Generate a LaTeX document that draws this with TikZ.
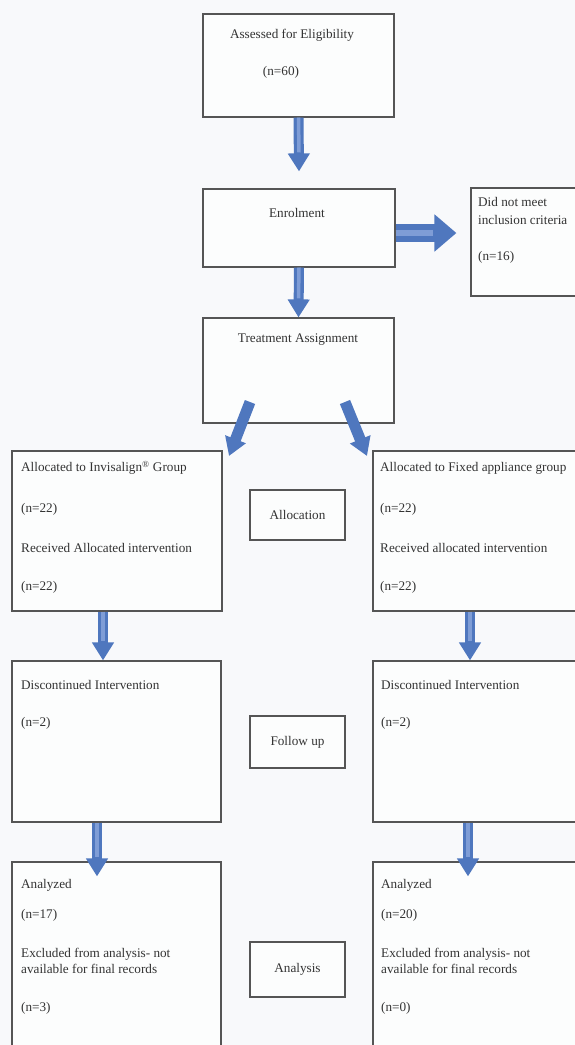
\documentclass[tikz,border=0pt]{standalone}
\usepackage{fontspec}
\setmainfont{Liberation Serif}
\usetikzlibrary{calc,arrows.meta}
\definecolor{boxline}{HTML}{555555}
\definecolor{txt}{HTML}{333333}
\definecolor{arrowblue}{HTML}{4F77BE}
\definecolor{arrowlight}{HTML}{7F9DD6}
\definecolor{bg}{HTML}{F8F9FB}
\begin{document}
\begin{tikzpicture}[x=1pt,y=-1pt,
  box/.style={draw=boxline, line width=1.2pt, rectangle, inner sep=0pt, fill=white!60!bg},
  lbl/.style={text=txt, font=\fontsize{13.2}{15}\selectfont, inner sep=0pt},
  lblw/.style={lbl, anchor=west},
  bluearrow/.style={draw=arrowblue, line width=10pt, -{Triangle[width=21pt,length=18pt]}},
  sidearrow/.style={draw=arrowblue, line width=18pt, -{Triangle[width=36pt,length=22pt]}},
  shine/.style={draw=arrowlight, line width=3.5pt},
]
\fill[bg] (0,0) rectangle (575,1045);
\useasboundingbox (0,0) rectangle (575,1045);
\clip (0,0) rectangle (575,1045);

% boxes
\node[box, minimum width=191pt, minimum height=103pt] (assess) at (298.5,65.5) {};
\node[box, minimum width=192pt, minimum height=78pt] (enrol) at (299,228) {};
\node[box, minimum width=130pt, minimum height=108pt] (excl) at (536,242) {};
\node[box, minimum width=191pt, minimum height=105pt] (treat) at (298.5,370.5) {};
\node[box, minimum width=210pt, minimum height=160pt] (allocL) at (117,531) {};
\node[box, minimum width=227pt, minimum height=160pt] (allocR) at (486.5,531) {};
\node[box, minimum width=95pt, minimum height=50pt] (allocation) at (297.5,515) {};
\node[box, minimum width=209pt, minimum height=161pt] (discL) at (116.5,741.5) {};
\node[box, minimum width=227pt, minimum height=161pt] (discR) at (486.5,741.5) {};
\node[box, minimum width=95pt, minimum height=52pt] (follow) at (297.5,742) {};
\node[box, minimum width=209pt, minimum height=208pt] (anaL) at (116.5,966) {};
\node[box, minimum width=227pt, minimum height=208pt] (anaR) at (486.5,966) {};
\node[box, minimum width=95pt, minimum height=55pt] (analysis) at (297.5,969.5) {};

% arrows
\draw[bluearrow] (assess.south) -- ($(enrol.north)+(0,-17)$);
\draw[shine] (assess.south) -- ($(enrol.north)+(0,-36)$);
\draw[bluearrow] (enrol.south) -- (treat.north);
\draw[shine] (enrol.south) -- ($(treat.north)+(0,-19)$);
\draw[sidearrow] ($(enrol.east)+(0,5)$) -- ($(excl.west)+(-14,-9)$);
\draw[shine, line width=6pt] ($(enrol.east)+(0,5)$) -- ($(excl.west)+(-37,-9)$);

\coordinate (dl1) at (250,402);
\coordinate (dl2) at (229,456);
\coordinate (dr1) at (345,402);
\coordinate (dr2) at (367,456);
\draw[bluearrow, line width=11pt] (dl1) -- (dl2);
\draw[bluearrow, line width=11pt] (dr1) -- (dr2);

\draw[bluearrow] ($(allocL.south)+(-14,0)$) -- ($(discL.north)+(-13.5,0)$);
\draw[shine] ($(allocL.south)+(-14,0)$) -- ($(discL.north)+(-13.5,-19)$);
\draw[bluearrow] ($(allocR.south)+(-16.5,0)$) -- ($(discR.north)+(-16.5,0)$);
\draw[shine] ($(allocR.south)+(-16.5,0)$) -- ($(discR.north)+(-16.5,-19)$);
\draw[bluearrow] ($(discL.south)+(-19.5,0)$) -- ($(anaL.north)+(-19.5,15)$);
\draw[shine] ($(discL.south)+(-19.5,0)$) -- ($(anaL.north)+(-19.5,-4)$);
\draw[bluearrow] ($(discR.south)+(-18.5,0)$) -- ($(anaR.north)+(-18.5,15)$);
\draw[shine] ($(discR.south)+(-18.5,0)$) -- ($(anaR.north)+(-18.5,-4)$);

% texts
\node[lbl] (t1) at (292,35) {Assessed for Eligibility};
\node[lbl] (t2) at (281,72) {(n=60)};
\node[lbl] (t3) at (297,213) {Enrolment};
\node[lblw] (t4) at (478,202) {Did not meet};
\node[lblw] (t5) at (478,220) {inclusion criteria};
\node[lblw] (t6) at (478,257) {(n=16)};
\node[lbl] (t7) at (298,340) {Treatment Assignment};

\node[lblw] (a1) at (21,468) {Allocated to Invisalign\textsuperscript{®} Group};
\node[lblw] (a2) at (21,509) {(n=22)};
\node[lblw] (a3) at (21,548) {Received Allocated intervention};
\node[lblw] (a4) at (21,587) {(n=22)};
\node[lblw] (b1) at (380,468) {Allocated to Fixed appliance group};
\node[lblw] (b2) at (380,509) {(n=22)};
\node[lblw] (b3) at (380,548) {Received allocated intervention};
\node[lblw] (b4) at (380,587) {(n=22)};
\node[lbl] (c1) at (297.5,515) {Allocation};

\node[lblw] (d1) at (21,685) {Discontinued Intervention};
\node[lblw] (d2) at (21,723) {(n=2)};
\node[lblw] (e1) at (381,685) {Discontinued Intervention};
\node[lblw] (e2) at (381,723) {(n=2)};
\node[lbl] (c2) at (297.5,742) {Follow up};

\node[lblw] (f1) at (21,885) {Analyzed};
\node[lblw] (f2) at (21,915) {(n=17)};
\node[lblw] (f3) at (21,954) {Excluded from analysis- not};
\node[lblw] (f4) at (21,969) {available for final records};
\node[lblw] (f5) at (21,1008) {(n=3)};
\node[lblw] (g1) at (381,885) {Analyzed};
\node[lblw] (g2) at (381,915) {(n=20)};
\node[lblw] (g3) at (381,954) {Excluded from analysis- not};
\node[lblw] (g4) at (381,969) {available for final records};
\node[lblw] (g5) at (381,1008) {(n=0)};
\node[lbl] (c3) at (297.5,969.5) {Analysis};
\end{tikzpicture}
\end{document}
